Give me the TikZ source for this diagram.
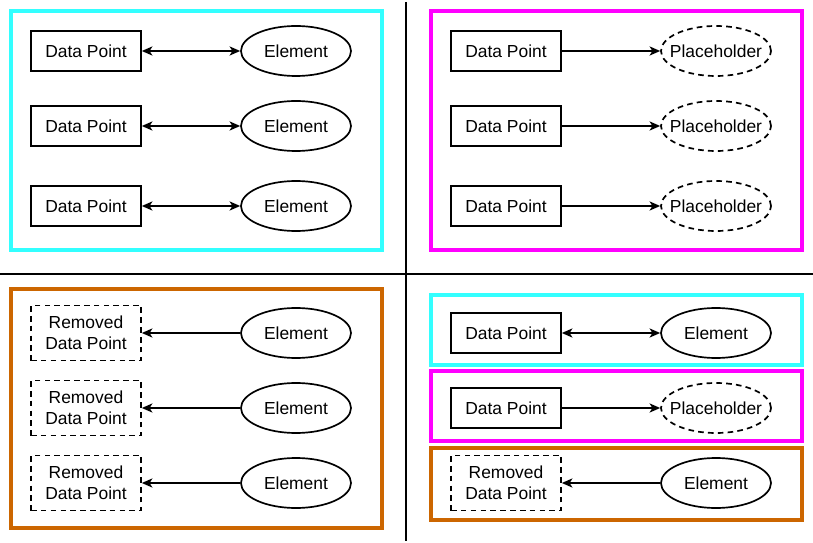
\documentclass[tikz,border=0pt]{standalone}
\usepackage{fontspec}
\setmainfont{Liberation Sans}
\usepackage{xcolor}
\definecolor{frcyan}{RGB}{51,255,255}
\definecolor{frmagenta}{RGB}{255,0,255}
\definecolor{frorange}{RGB}{204,102,0}
\usetikzlibrary{arrows.meta,positioning,shapes.geometric}

\tikzset{
  dpbox/.style={draw,line width=1.2pt,minimum width=2.75cm,minimum height=1.0cm,
                inner sep=1pt,align=center,font=\fontsize{12.4}{15}\selectfont},
  removed/.style={dpbox,dash pattern=on 4pt off 3pt,minimum height=1.375cm},
  elem/.style={draw,ellipse,line width=1.2pt,minimum width=2.75cm,minimum height=1.25cm,
               inner sep=0pt,align=center,font=\fontsize{12.4}{15}\selectfont},
  holder/.style={elem,dash pattern=on 4pt off 3pt,inner xsep=-6pt},
  link/.style={line width=1.2pt},
  frame/.style={line width=2.2pt},
}

\begin{document}
\begin{tikzpicture}[x=0.025cm,y=-0.025cm,>={Stealth[length=7.5pt,width=6.5pt,inset=2pt]}]
  \useasboundingbox (0,0) rectangle (813,543);

  %% Dividers
  \draw[line width=1.2pt] (406,2) -- (406,541);
  \draw[line width=1.2pt] (0,274) -- (813,274);

  %% Top left: data points bound to elements
  \draw[frame,frcyan] (11,11) rectangle (382,250);
  \node[dpbox] (tl1) at (86,51) {Data Point};
  \node[elem]  (te1) at (296,51) {Element};
  \node[dpbox] (tl2) at (86,126) {Data Point};
  \node[elem]  (te2) at (296,126) {Element};
  \node[dpbox] (tl3) at (86,206) {Data Point};
  \node[elem]  (te3) at (296,206) {Element};
  \draw[link,<->] (tl1) -- (te1);
  \draw[link,<->] (tl2) -- (te2);
  \draw[link,<->] (tl3) -- (te3);

  %% Top right: data points entering as placeholders
  \draw[frame,frmagenta] (431,11) rectangle (802,250);
  \node[dpbox]  (tr1) at (506,51) {Data Point};
  \node[holder] (tp1) at (716,51) {Placeholder};
  \node[dpbox]  (tr2) at (506,126) {Data Point};
  \node[holder] (tp2) at (716,126) {Placeholder};
  \node[dpbox]  (tr3) at (506,206) {Data Point};
  \node[holder] (tp3) at (716,206) {Placeholder};
  \draw[link,->] (tr1) -- (tp1);
  \draw[link,->] (tr2) -- (tp2);
  \draw[link,->] (tr3) -- (tp3);

  %% Bottom left: elements whose data point was removed
  \draw[frame,frorange] (11,289) rectangle (382,528);
  \node[removed] (bl1) at (86,333) {Removed\\Data Point};
  \node[elem]    (be1) at (296,333) {Element};
  \node[removed] (bl2) at (86,408) {Removed\\Data Point};
  \node[elem]    (be2) at (296,408) {Element};
  \node[removed] (bl3) at (86,483) {Removed\\Data Point};
  \node[elem]    (be3) at (296,483) {Element};
  \draw[link,<-] (bl1) -- (be1);
  \draw[link,<-] (bl2) -- (be2);
  \draw[link,<-] (bl3) -- (be3);

  %% Bottom right: one of each
  \draw[frame,frcyan] (431,295) rectangle (802,365);
  \draw[frame,frmagenta] (431,371) rectangle (802,441);
  \draw[frame,frorange] (431,448) rectangle (802,520);
  \node[dpbox]   (br1) at (506,333) {Data Point};
  \node[elem]    (bm1) at (716,333) {Element};
  \node[dpbox]   (br2) at (506,408) {Data Point};
  \node[holder]  (bm2) at (716,408) {Placeholder};
  \node[removed] (br3) at (506,483) {Removed\\Data Point};
  \node[elem]    (bm3) at (716,483) {Element};
  \draw[link,<->] (br1) -- (bm1);
  \draw[link,->] (br2) -- (bm2);
  \draw[link,<-] (br3) -- (bm3);
\end{tikzpicture}
\end{document}
